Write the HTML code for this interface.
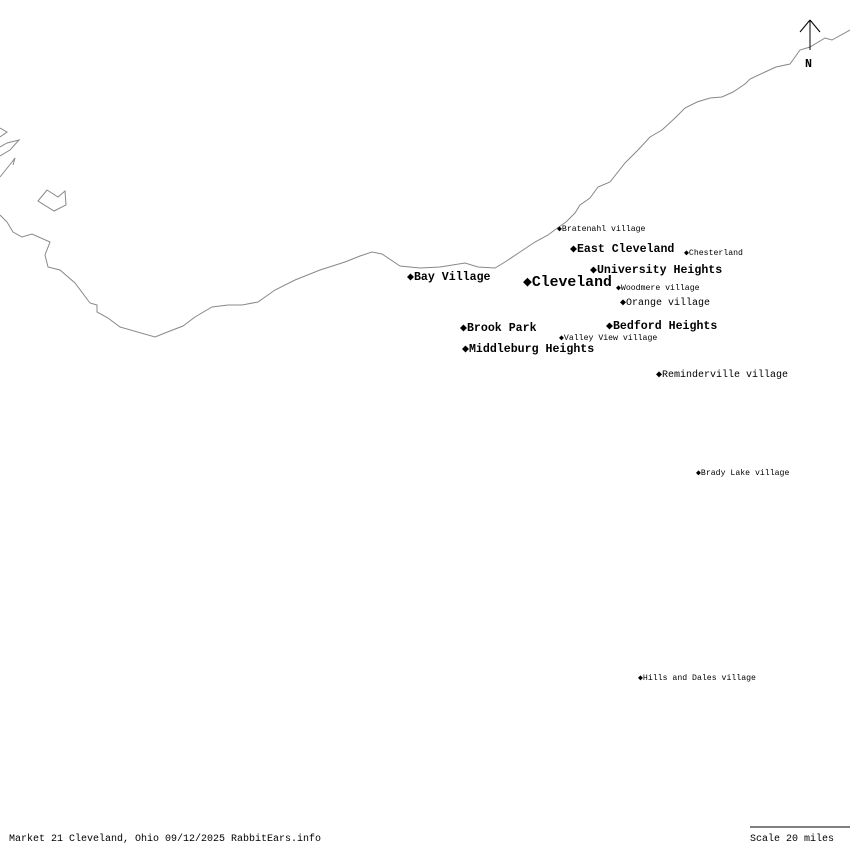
<!DOCTYPE html>
<html><head><style>
body{margin:0;background:#fff;}
svg{display:block}
text{font-family:"Liberation Mono","DejaVu Sans Mono",monospace;fill:#000}
.b{font-weight:bold;font-size:11.6px}
.s{font-size:8.2px}
.m{font-size:10px}
</style></head><body>
<svg width="850" height="850" viewBox="0 0 850 850">
<g fill="none" stroke="#888" stroke-width="1">
<polyline points="0,215 7,222 13,232 22,237 32,234 50,242 45,255 48,267 60,270 75,283 90,303 97,305 97,312 108,318 120,327 155,337 170,331 183,326 195,317 212,307 228,305 242,305 258,302 275,290 295,280 320,270 345,262 360,256 372,252 382,254 400,266 420,268 440,267 465,263 478,267 495,268 505,262 520,252 535,242 548,235 556,229 566,222 575,213 580,205 590,198 598,187 610,182 625,163 638,150 650,137 662,130 675,118 685,108 697,102 710,98 722,97 733,92 745,84 750,79 765,72 776,67 790,64 800,50 810,47 825,38 832,40 850,30"/>
<polygon points="38,201 47,190 58,197 65,191 66,205 54,211"/>
<polyline points="0,128 7,132 0,137"/>
<polyline points="0,147 7,143 19,140 10,150 0,156"/>
<polyline points="0,177 12,162 15,158 13,165"/>
</g>
<g stroke="#000" stroke-width="1">
<line x1="810" y1="20" x2="810" y2="50"/>
<line x1="810" y1="20" x2="800" y2="32"/>
<line x1="810" y1="20" x2="820" y2="32"/>
<line x1="750" y1="827" x2="850" y2="827"/>
</g>
<text x="805" y="67" class="b">N</text>
<text x="557" y="231" class="s">◆Bratenahl village</text>
<text x="570" y="252" class="b">◆East Cleveland</text>
<text x="684" y="255" class="s">◆Chesterland</text>
<text x="590" y="273" class="b">◆University Heights</text>
<text x="407" y="280" class="b">◆Bay Village</text>
<text x="523" y="286" style="font-size:14.8px;font-weight:bold">◆Cleveland</text>
<text x="616" y="290" class="s">◆Woodmere village</text>
<text x="620" y="305" class="m">◆Orange village</text>
<text x="460" y="331" class="b">◆Brook Park</text>
<text x="606" y="329" class="b">◆Bedford Heights</text>
<text x="559" y="340" class="s">◆Valley View village</text>
<text x="462" y="352" class="b">◆Middleburg Heights</text>
<text x="656" y="377" class="m">◆Reminderville village</text>
<text x="696" y="475" class="s">◆Brady Lake village</text>
<text x="638" y="680" class="s">◆Hills and Dales village</text>
<text x="9" y="841" class="m">Market 21 Cleveland, Ohio 09/12/2025 RabbitEars.info</text>
<text x="750" y="841" class="m">Scale 20 miles</text>
</svg>
</body></html>
